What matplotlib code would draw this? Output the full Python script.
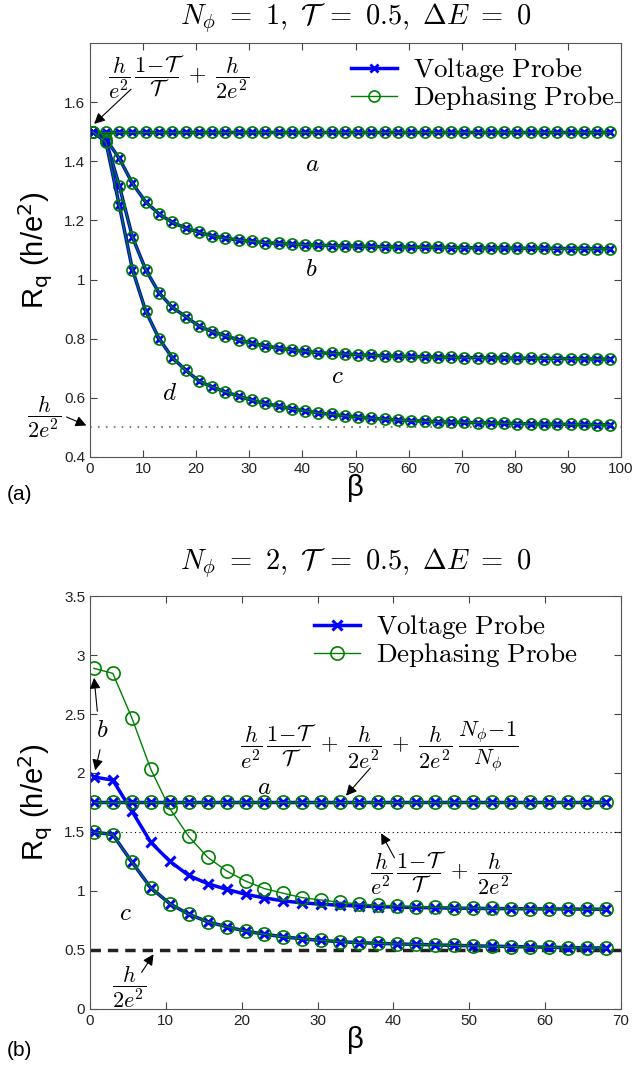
import numpy as np
import matplotlib
matplotlib.use('Agg')
import matplotlib.pyplot as plt

plt.rcParams['mathtext.fontset'] = 'cm'
plt.rcParams['font.family'] = ['Liberation Sans', 'DejaVu Sans']

# panel (a): N_phi = 1
beta_a = np.arange(0.5, 98.1, 2.5)
curve_a1 = [1.5] * 40
curve_b1 = [1.500, 1.475, 1.410, 1.325, 1.262, 1.222, 1.193, 1.175, 1.160, 1.148,
            1.140, 1.134, 1.129, 1.125, 1.122, 1.120, 1.118, 1.116, 1.115, 1.114,
            1.113, 1.112, 1.111, 1.110, 1.110, 1.109, 1.109, 1.108, 1.108, 1.107,
            1.107, 1.107, 1.106, 1.106, 1.106, 1.105, 1.105, 1.105, 1.104, 1.104]
curve_c1 = [1.500, 1.470, 1.318, 1.143, 1.033, 0.955, 0.906, 0.875, 0.843, 0.824,
            0.810, 0.796, 0.784, 0.776, 0.768, 0.762, 0.757, 0.753, 0.750, 0.748,
            0.746, 0.744, 0.742, 0.741, 0.740, 0.739, 0.738, 0.737, 0.736, 0.736,
            0.735, 0.735, 0.734, 0.734, 0.733, 0.733, 0.732, 0.732, 0.731, 0.731]
curve_d1 = [1.500, 1.465, 1.252, 1.033, 0.893, 0.800, 0.736, 0.694, 0.657, 0.637,
            0.620, 0.606, 0.592, 0.581, 0.572, 0.563, 0.556, 0.549, 0.544, 0.539,
            0.535, 0.531, 0.528, 0.525, 0.523, 0.521, 0.519, 0.518, 0.517, 0.516,
            0.515, 0.514, 0.513, 0.512, 0.511, 0.511, 0.510, 0.510, 0.509, 0.509]

# panel (b): N_phi = 2
beta_b = np.arange(0.5, 68.1, 2.5)
curve_a2 = [1.75] * 28
volt_b2 = [1.966, 1.940, 1.680, 1.413, 1.253, 1.132, 1.062, 1.014, 0.972, 0.941,
           0.916, 0.899, 0.888, 0.879, 0.872, 0.867, 0.863, 0.860, 0.857, 0.855,
           0.853, 0.851, 0.850, 0.849, 0.848, 0.847, 0.846, 0.845]
deph_b2 = [2.887, 2.845, 2.470, 2.034, 1.700, 1.463, 1.286, 1.170, 1.084, 1.020,
           0.980, 0.943, 0.923, 0.903, 0.890, 0.880, 0.873, 0.867, 0.862, 0.858,
           0.855, 0.853, 0.851, 0.850, 0.848, 0.847, 0.846, 0.845]
curve_c2 = [1.500, 1.478, 1.247, 1.028, 0.893, 0.803, 0.739, 0.697, 0.660, 0.633,
            0.612, 0.594, 0.581, 0.570, 0.562, 0.556, 0.551, 0.547, 0.543, 0.539,
            0.535, 0.532, 0.529, 0.526, 0.523, 0.520, 0.518, 0.516]

BLUE = '#0000ff'
GREEN = '#008000'
arrow_kw = dict(arrowstyle='-|>', color='k', lw=0.8, mutation_scale=16)
frac_full = r'$\dfrac{h}{e^2}\,\dfrac{1\!-\!\mathcal{T}}{\mathcal{T}}\;+\;\dfrac{h}{2e^2}$'
frac_half = r'$\dfrac{h}{2e^2}$'
FS_FRAC = 16
leg_kw = dict(frameon=False, fontsize=19.5, handlelength=1.7, borderpad=0,
              borderaxespad=0, labelspacing=0.0, handletextpad=0.6, loc='upper left')


def style_axes(ax, xmax, ylim, yticks):
    ax.set_xlim(0, xmax)
    ax.set_ylim(*ylim)
    ax.set_xticks(np.arange(0, xmax + 1, 10))
    ax.set_yticks(yticks)
    ax.set_yticklabels(['%g' % t for t in yticks])
    ax.tick_params(direction='in', top=True, right=True, length=5,
                   labelsize=11, colors='#444444', labelcolor='#222222')
    for s in ax.spines.values():
        s.set_color('#555555')
    ax.set_ylabel(r'R$_\mathrm{q}$ (h/e$^2$)', fontsize=21,
                  math_fontfamily='dejavusans')
    ax.yaxis.set_label_coords(-0.066, 0.5)
    ax.set_xlabel('β', fontsize=21, labelpad=-1)


fig = plt.figure(figsize=(6.33, 10.67), dpi=100)
ax1 = fig.add_axes([0.1422, 0.5717, 0.8389, 0.388])
ax2 = fig.add_axes([0.1422, 0.0544, 0.8389, 0.387])

# ---- panel (a)
ms_a = dict(volt=dict(color=BLUE, lw=2.5, marker='x', ms=5.5, mew=2),
            deph=dict(color=GREEN, lw=1, marker='o', ms=8, mfc='none', mew=1.2))
ax1.plot([0, 100], [0.5, 0.5], color='gray', lw=1.5, ls=(0, (0.8, 3)))
for c in [curve_a1, curve_b1, curve_c1, curve_d1]:
    lv, = ax1.plot(beta_a, c, **ms_a['volt'])
    ld, = ax1.plot(beta_a, c, **ms_a['deph'])
lv.set_label(r'$\mathrm{Voltage\ Probe}$')
ld.set_label(r'$\mathrm{Dephasing\ Probe}$')
ax1.legend(bbox_to_anchor=(0.4915, 0.968), **leg_kw)
style_axes(ax1, 100, (0.4, 1.8), [0.4, 0.6, 0.8, 1, 1.2, 1.4, 1.6])
fig.text(0.5616, 0.983, r'$N_\phi\ =\ 1,\ \mathcal{T}\ =\ 0.5,\ \Delta E\ =\ 0$',
         fontsize=20.5, ha='center', va='center')

ax1.text(16.8, 1.685, frac_full, fontsize=FS_FRAC, ha='center', va='center')
ax1.annotate('', xy=(0.4, 1.52), xytext=(8.1, 1.65), arrowprops=arrow_kw)
ax1.text(-8.7, 0.536, frac_half, fontsize=FS_FRAC, ha='center', va='center')
ax1.annotate('', xy=(-0.2, 0.503), xytext=(-4.9, 0.539), arrowprops=arrow_kw,
             annotation_clip=False)
ax1.text(41.8, 1.39, r'$a$', fontsize=18, ha='center', va='center')
ax1.text(41.7, 1.035, r'$b$', fontsize=18, ha='center', va='center')
ax1.text(46.6, 0.673, r'$c$', fontsize=18, ha='center', va='center')
ax1.text(15.0, 0.617, r'$d$', fontsize=18, ha='center', va='center')
fig.text(0.011, 1 - 495 / 1067, '(a)', fontsize=15, va='center')

# ---- panel (b)
ms_b = dict(volt=dict(color=BLUE, lw=2.5, marker='x', ms=6.5, mew=2.2),
            deph=dict(color=GREEN, lw=1, marker='o', ms=9.5, mfc='none', mew=1.2))
ax2.plot([0, 70], [1.5, 1.5], color='k', lw=0.8, ls=(0, (1, 3)))
ax2.plot([0, 70], [0.5, 0.5], color='#222222', lw=2.5, ls=(0, (3, 2)))
ax2.plot(beta_b, volt_b2, label=r'$\mathrm{Voltage\ Probe}$', **ms_b['volt'])
ax2.plot(beta_b, deph_b2, label=r'$\mathrm{Dephasing\ Probe}$', **ms_b['deph'])
for c in [curve_a2, curve_c2]:
    ax2.plot(beta_b, c, **ms_b['volt'])
    ax2.plot(beta_b, c, **ms_b['deph'])
ax2.legend(bbox_to_anchor=(0.422, 0.958), **leg_kw)
style_axes(ax2, 70, (0, 3.5), [0, 0.5, 1, 1.5, 2, 2.5, 3, 3.5])
fig.text(0.5616, 1 - 563 / 1067, r'$N_\phi\ =\ 2,\ \mathcal{T}\ =\ 0.5,\ \Delta E\ =\ 0$',
         fontsize=20.5, ha='center', va='center')

ax2.text(1.6, 2.365, r'$b$', fontsize=18, ha='center', va='center')
ax2.annotate('', xy=(0.5, 2.83), xytext=(1.0, 2.5), arrowprops=arrow_kw)
ax2.annotate('', xy=(0.6, 2.0), xytext=(1.4, 2.22), arrowprops=arrow_kw)
ax2.text(38.2, 2.22,
         r'$\dfrac{h}{e^2}\,\dfrac{1\!-\!\mathcal{T}}{\mathcal{T}}\;+\;\dfrac{h}{2e^2}\;+\;'
         r'\dfrac{h}{2e^2}\;\dfrac{N_\phi\!-\!1}{N_\phi}$',
         fontsize=FS_FRAC, ha='center', va='center')
ax2.annotate('', xy=(33.5, 1.79), xytext=(37.2, 2.06), arrowprops=arrow_kw)
ax2.text(23.0, 1.88, r'$a$', fontsize=18, ha='center', va='center')
ax2.text(46.3, 1.155, frac_full, fontsize=FS_FRAC, ha='center', va='center')
ax2.annotate('', xy=(38.2, 1.51), xytext=(40.3, 1.26), arrowprops=arrow_kw)
ax2.text(4.7, 0.81, r'$c$', fontsize=18, ha='center', va='center')
ax2.text(5.14, 0.186, frac_half, fontsize=FS_FRAC, ha='center', va='center')
ax2.annotate('', xy=(8.57, 0.483), xytext=(6.6, 0.29), arrowprops=arrow_kw)
fig.text(0.011, 1 - 1050 / 1067, '(b)', fontsize=15, va='center')

fig.savefig('out.png', dpi=100)
